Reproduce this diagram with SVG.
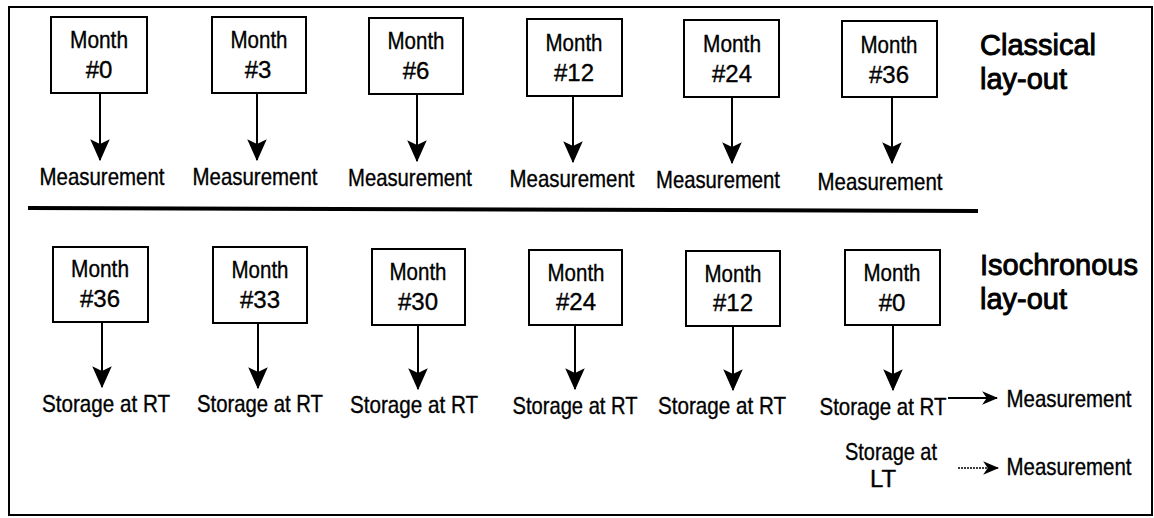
<svg xmlns="http://www.w3.org/2000/svg" width="1154" height="518" viewBox="0 0 1154 518">
<style>
.box{fill:#fff;stroke:#000;stroke-width:2}
.t{font-family:"Liberation Sans",Arial,sans-serif;font-size:24px;fill:#000;text-anchor:middle;stroke:#000;stroke-width:0.35}
.h{font-family:"Liberation Sans",Arial,sans-serif;font-size:29px;fill:#000;stroke:#000;stroke-width:0.9}
.c{stroke:#000;stroke-width:2;fill:none}
</style>
<defs>
<marker id="ah" markerUnits="userSpaceOnUse" markerWidth="22" markerHeight="22" viewBox="0 -9 18 18" refX="17" refY="0" orient="auto">
<path d="M0,-8 L18,0 L0,8 L4,0 Z" fill="#000"/>
</marker>
<marker id="ah2" markerUnits="userSpaceOnUse" markerWidth="16" markerHeight="16" viewBox="0 -7 14 14" refX="13" refY="0" orient="auto">
<path d="M0,-6 L14,0 L0,6 L4,0 Z" fill="#000"/>
</marker>
</defs>
<rect x="9" y="7" width="1143" height="508" fill="#fff" stroke="#000" stroke-width="2"/>
<line x1="28" y1="208" x2="978" y2="211" stroke="#000" stroke-width="4"/>

<g id="connectors">
<line class="c" x1="100" y1="93" x2="100" y2="160" marker-end="url(#ah)"/>
<line class="c" x1="257" y1="93" x2="257" y2="160" marker-end="url(#ah)"/>
<line class="c" x1="417" y1="94" x2="417" y2="161" marker-end="url(#ah)"/>
<line class="c" x1="573" y1="96" x2="573" y2="162" marker-end="url(#ah)"/>
<line class="c" x1="732" y1="97" x2="732" y2="163" marker-end="url(#ah)"/>
<line class="c" x1="892" y1="97" x2="892" y2="163" marker-end="url(#ah)"/>
<line class="c" x1="102" y1="322" x2="102" y2="387" marker-end="url(#ah)"/>
<line class="c" x1="258" y1="323" x2="258" y2="388" marker-end="url(#ah)"/>
<line class="c" x1="418" y1="325" x2="418" y2="389" marker-end="url(#ah)"/>
<line class="c" x1="575" y1="325" x2="575" y2="389" marker-end="url(#ah)"/>
<line class="c" x1="733" y1="326" x2="733" y2="390" marker-end="url(#ah)"/>
<line class="c" x1="893" y1="325" x2="893" y2="390" marker-end="url(#ah)"/>
<line class="c" x1="948" y1="398" x2="997" y2="398" marker-end="url(#ah2)"/>
<line x1="958" y1="468" x2="998" y2="468" stroke="#000" stroke-width="1.5" stroke-dasharray="2 1" marker-end="url(#ah2)"/>
</g>

<g id="c1"><rect class="box" x="51" y="17" width="96" height="76"/><text class="t" x="99" y="48" textLength="58" lengthAdjust="spacingAndGlyphs">Month</text><text class="t" x="99" y="78">#0</text></g>
<g id="c2"><rect class="box" x="212" y="17" width="94" height="76"/><text class="t" x="259" y="48" textLength="57" lengthAdjust="spacingAndGlyphs">Month</text><text class="t" x="258" y="78">#3</text></g>
<g id="c3"><rect class="box" x="369" y="18" width="94" height="76"/><text class="t" x="416" y="49" textLength="57" lengthAdjust="spacingAndGlyphs">Month</text><text class="t" x="416" y="79">#6</text></g>
<g id="c4"><rect class="box" x="527" y="19" width="95" height="77"/><text class="t" x="574" y="51" textLength="57" lengthAdjust="spacingAndGlyphs">Month</text><text class="t" x="574" y="81">#12</text></g>
<g id="c5"><rect class="box" x="684" y="20" width="95" height="77"/><text class="t" x="732" y="52" textLength="58" lengthAdjust="spacingAndGlyphs">Month</text><text class="t" x="732" y="82">#24</text></g>
<g id="c6"><rect class="box" x="842" y="21" width="95" height="76"/><text class="t" x="889" y="53" textLength="57" lengthAdjust="spacingAndGlyphs">Month</text><text class="t" x="889" y="83">#36</text></g>

<g id="m1"><text class="t" x="102" y="185" textLength="125" lengthAdjust="spacingAndGlyphs">Measurement</text></g>
<g id="m2"><text class="t" x="255" y="185" textLength="125" lengthAdjust="spacingAndGlyphs">Measurement</text></g>
<g id="m3"><text class="t" x="410" y="186" textLength="124" lengthAdjust="spacingAndGlyphs">Measurement</text></g>
<g id="m4"><text class="t" x="572" y="187" textLength="125" lengthAdjust="spacingAndGlyphs">Measurement</text></g>
<g id="m5"><text class="t" x="718" y="188" textLength="124" lengthAdjust="spacingAndGlyphs">Measurement</text></g>
<g id="m6"><text class="t" x="880" y="190" textLength="125" lengthAdjust="spacingAndGlyphs">Measurement</text></g>

<g id="title1"><text class="h" x="980" y="55">Classical</text><text class="h" x="980" y="89">lay-out</text></g>
<g id="title2"><text class="h" x="980" y="275">Isochronous</text><text class="h" x="980" y="309">lay-out</text></g>

<g id="i1"><rect class="box" x="53" y="247" width="95" height="75"/><text class="t" x="100" y="277" textLength="58" lengthAdjust="spacingAndGlyphs">Month</text><text class="t" x="100" y="307">#36</text></g>
<g id="i2"><rect class="box" x="213" y="247" width="94" height="76"/><text class="t" x="260" y="278" textLength="57" lengthAdjust="spacingAndGlyphs">Month</text><text class="t" x="260" y="308">#33</text></g>
<g id="i3"><rect class="box" x="372" y="249" width="93" height="76"/><text class="t" x="418" y="280" textLength="57" lengthAdjust="spacingAndGlyphs">Month</text><text class="t" x="418" y="310">#30</text></g>
<g id="i4"><rect class="box" x="529" y="250" width="93" height="75"/><text class="t" x="576" y="281" textLength="57" lengthAdjust="spacingAndGlyphs">Month</text><text class="t" x="576" y="310">#24</text></g>
<g id="i5"><rect class="box" x="686" y="251" width="94" height="75"/><text class="t" x="733" y="282" textLength="57" lengthAdjust="spacingAndGlyphs">Month</text><text class="t" x="733" y="311">#12</text></g>
<g id="i6"><rect class="box" x="845" y="250" width="95" height="75"/><text class="t" x="892" y="281" textLength="57" lengthAdjust="spacingAndGlyphs">Month</text><text class="t" x="892" y="311">#0</text></g>

<g id="s1"><text class="t" x="106" y="412" textLength="128" lengthAdjust="spacingAndGlyphs">Storage at RT</text></g>
<g id="s2"><text class="t" x="260" y="412" textLength="126" lengthAdjust="spacingAndGlyphs">Storage at RT</text></g>
<g id="s3"><text class="t" x="414" y="413" textLength="128" lengthAdjust="spacingAndGlyphs">Storage at RT</text></g>
<g id="s4"><text class="t" x="575" y="414" textLength="125" lengthAdjust="spacingAndGlyphs">Storage at RT</text></g>
<g id="s5"><text class="t" x="722" y="414" textLength="128" lengthAdjust="spacingAndGlyphs">Storage at RT</text></g>
<g id="s6"><text class="t" x="883" y="415" textLength="127" lengthAdjust="spacingAndGlyphs">Storage at RT</text></g>
<g id="mr"><text class="t" x="1069" y="407" textLength="125" lengthAdjust="spacingAndGlyphs">Measurement</text></g>
<g id="slt"><text class="t" x="891" y="460" textLength="92" lengthAdjust="spacingAndGlyphs">Storage at</text><text class="t" x="883" y="487">LT</text></g>
<g id="ml"><text class="t" x="1069" y="475" textLength="125" lengthAdjust="spacingAndGlyphs">Measurement</text></g>
</svg>
